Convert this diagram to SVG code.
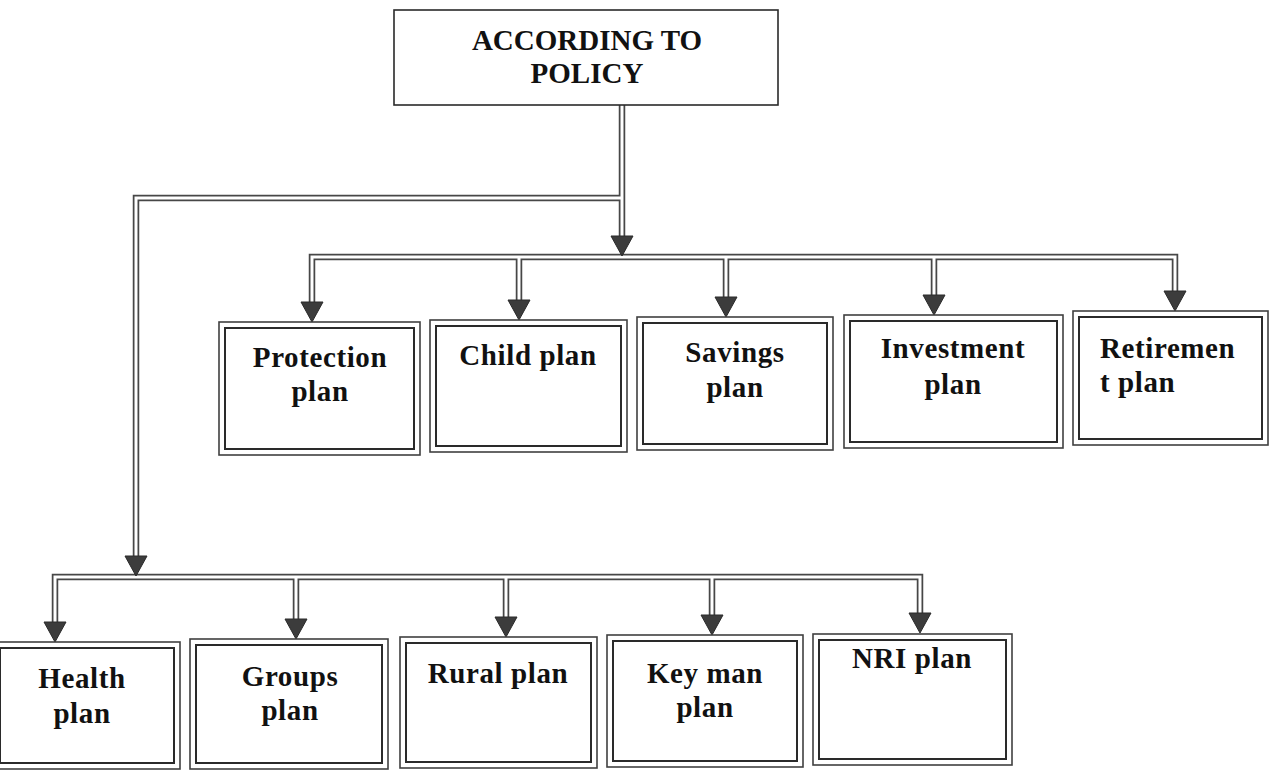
<svg xmlns="http://www.w3.org/2000/svg" xmlns:xlink="http://www.w3.org/1999/xlink" width="1276" height="772" viewBox="0 0 1276 772">
<style>
.bg{fill:#ffffff}
.pipeO{fill:none;stroke:#474747;stroke-width:6.5;stroke-linejoin:miter;stroke-linecap:butt}
.pipeI{fill:none;stroke:#ffffff;stroke-width:3;stroke-linejoin:miter;stroke-linecap:butt}
.head{fill:#3c3c3c;stroke:#2a2a2a;stroke-width:1}
.single{fill:#ffffff;stroke:#2a2a2a;stroke-width:1.6}
.outer{fill:#ffffff;stroke:#404040;stroke-width:1.6}
.inner{fill:none;stroke:#2a2a2a;stroke-width:2}
.t{font-family:"Liberation Serif","Times New Roman",serif;font-weight:bold;font-size:29px;letter-spacing:0.6px;fill:#111111;text-anchor:middle}
.tt{font-family:"Liberation Serif","Times New Roman",serif;font-weight:bold;font-size:29px;fill:#111111;text-anchor:middle}
</style>
<defs>
<path id="ah" class="head" d="M-11,-20 L11,-20 L0,0 Z"/>
</defs>
<rect class="bg" x="0" y="0" width="1276" height="772"/>

<g id="connectors">
  <g>
    <path class="pipeO" d="M622,105 V237 M622,198 H136 V557"/>
    <path class="pipeO" d="M312,302 V257 H1175 V291 M519,257 V300 M726,257 V297 M934,257 V295"/>
    <path class="pipeO" d="M55,622 V577 H920 V613 M296,577 V619 M506,577 V617 M712,577 V615"/>
    <path class="pipeI" d="M622,105 V237 M622,198 H136 V557"/>
    <path class="pipeI" d="M312,302 V257 H1175 V291 M519,257 V300 M726,257 V297 M934,257 V295"/>
    <path class="pipeI" d="M55,622 V577 H920 V613 M296,577 V619 M506,577 V617 M712,577 V615"/>
  </g>
  <use xlink:href="#ah" href="#ah" x="622" y="256"/>
  <use xlink:href="#ah" href="#ah" x="136" y="576"/>
  <use xlink:href="#ah" href="#ah" x="312" y="322"/>
  <use xlink:href="#ah" href="#ah" x="519" y="320"/>
  <use xlink:href="#ah" href="#ah" x="726" y="317"/>
  <use xlink:href="#ah" href="#ah" x="934" y="315"/>
  <use xlink:href="#ah" href="#ah" x="1175" y="311"/>
  <use xlink:href="#ah" href="#ah" x="55" y="642"/>
  <use xlink:href="#ah" href="#ah" x="296" y="639"/>
  <use xlink:href="#ah" href="#ah" x="506" y="637"/>
  <use xlink:href="#ah" href="#ah" x="712" y="635"/>
  <use xlink:href="#ah" href="#ah" x="920" y="633"/>
</g>

<g id="policy">
  <rect class="single" x="394" y="10" width="384" height="95"/>
  <text class="tt" x="587" y="50">ACCORDING TO</text>
  <text class="tt" x="587" y="83">POLICY</text>
</g>

<g id="protection">
  <rect class="outer" x="219" y="322" width="201" height="133"/>
  <rect class="inner" x="225" y="328" width="189" height="121"/>
  <text class="t" x="320" y="367">Protection</text>
  <text class="t" x="320" y="401">plan</text>
</g>
<g id="child">
  <rect class="outer" x="430" y="320" width="197" height="132"/>
  <rect class="inner" x="436" y="326" width="185" height="120"/>
  <text class="t" x="528" y="365">Child plan</text>
</g>
<g id="savings">
  <rect class="outer" x="637" y="317" width="196" height="133"/>
  <rect class="inner" x="643" y="323" width="184" height="121"/>
  <text class="t" x="735" y="362">Savings</text>
  <text class="t" x="735" y="397">plan</text>
</g>
<g id="investment">
  <rect class="outer" x="844" y="315" width="219" height="133"/>
  <rect class="inner" x="850" y="321" width="207" height="121"/>
  <text class="t" x="953" y="358">Investment</text>
  <text class="t" x="953" y="394">plan</text>
</g>
<g id="retirement">
  <rect class="outer" x="1073" y="311" width="195" height="134"/>
  <rect class="inner" x="1079" y="317" width="183" height="122"/>
  <text class="t" x="1100" y="358" style="text-anchor:start">Retiremen</text>
  <text class="t" x="1100" y="392" style="text-anchor:start">t plan</text>
</g>

<g id="health">
  <rect class="outer" x="-6" y="642" width="186" height="127"/>
  <rect class="inner" x="0" y="648" width="174" height="115"/>
  <text class="t" x="82" y="688">Health</text>
  <text class="t" x="82" y="723">plan</text>
</g>
<g id="groups">
  <rect class="outer" x="190" y="639" width="198" height="130"/>
  <rect class="inner" x="196" y="645" width="186" height="118"/>
  <text class="t" x="290" y="686">Groups</text>
  <text class="t" x="290" y="720">plan</text>
</g>
<g id="rural">
  <rect class="outer" x="400" y="637" width="197" height="131"/>
  <rect class="inner" x="406" y="643" width="185" height="119"/>
  <text class="t" x="498" y="683">Rural plan</text>
</g>
<g id="keyman">
  <rect class="outer" x="607" y="635" width="196" height="132"/>
  <rect class="inner" x="613" y="641" width="184" height="120"/>
  <text class="t" x="705" y="683">Key man</text>
  <text class="t" x="705" y="717">plan</text>
</g>
<g id="nri">
  <rect class="outer" x="813" y="634" width="199" height="131"/>
  <rect class="inner" x="819" y="640" width="187" height="119"/>
  <text class="t" x="912" y="668">NRI plan</text>
</g>
</svg>
